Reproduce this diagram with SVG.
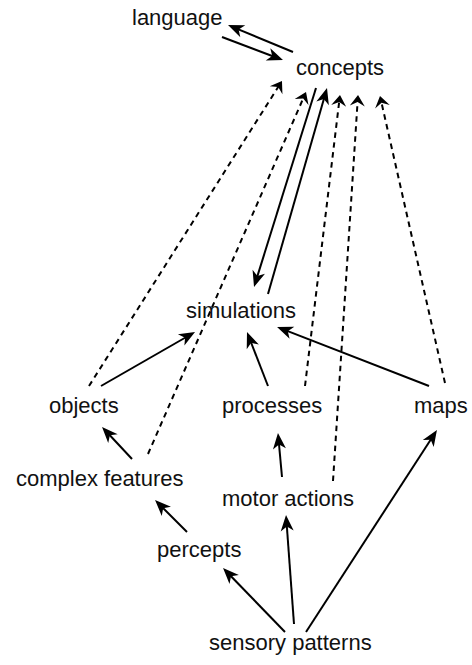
<svg xmlns="http://www.w3.org/2000/svg" width="472" height="665" viewBox="0 0 472 665">
  <style>
    .label { font-family: "Liberation Sans", Arial, Helvetica, sans-serif; font-size: 22px; fill: #111; }
    .edge { fill: none; stroke: #000; stroke-width: 2; }
    .solid { marker-end: url(#head); }
    .dashed { stroke-dasharray: 5.5 4.5; marker-end: url(#headSmall); }
  </style>
  <defs>
    <!-- notched arrowheads; the line ends inside the head, tip lies ahead of it -->
    <marker id="head" markerUnits="userSpaceOnUse" orient="auto" overflow="visible" refX="0" refY="0" markerWidth="1" markerHeight="1">
      <path d="M8,0 L-8,-6.5 L-3.5,0 L-8,6.5 Z" fill="#000"/>
    </marker>
    <marker id="headSmall" markerUnits="userSpaceOnUse" orient="auto" overflow="visible" refX="0" refY="0" markerWidth="1" markerHeight="1">
      <path d="M5,0 L-6,-7.5 L-2,0 L-6,7.5 Z" fill="#000"/>
    </marker>
  </defs>
  <rect width="472" height="665" fill="#fff"/>

  <g id="connectors">
    <line class="edge solid" x1="222" y1="37" x2="275.5" y2="57.2"/>
    <line class="edge solid" x1="293" y1="52" x2="235.4" y2="28.1"/>
    <line class="edge solid" x1="316" y1="88" x2="256.4" y2="279.4"/>
    <line class="edge solid" x1="268" y1="294" x2="324.8" y2="95.7"/>
    <line class="edge solid" x1="101" y1="386" x2="188.1" y2="336"/>
    <line class="edge solid" x1="268" y1="386" x2="249.9" y2="339.5"/>
    <line class="edge solid" x1="429" y1="386" x2="284.5" y2="329.9"/>
    <line class="edge solid" x1="132" y1="459" x2="107.5" y2="432.8"/>
    <line class="edge solid" x1="187" y1="532" x2="160.7" y2="505.7"/>
    <line class="edge solid" x1="285" y1="632" x2="228.6" y2="573.7"/>
    <line class="edge solid" x1="294" y1="624" x2="286.6" y2="523"/>
    <line class="edge solid" x1="306" y1="632" x2="432.6" y2="436.7"/>
    <line class="edge solid" x1="282" y1="477" x2="278.7" y2="441"/>

    <line class="edge dashed" x1="89" y1="386" x2="279.3" y2="85.2"/>
    <line class="edge dashed" x1="148" y1="454" x2="304" y2="96.6"/>
    <line class="edge dashed" x1="305" y1="386" x2="339.4" y2="100"/>
    <line class="edge dashed" x1="333" y1="481" x2="357.7" y2="100"/>
    <line class="edge dashed" x1="445" y1="383" x2="381.1" y2="100.9"/>
  </g>

  <g id="language"><text class="label" x="132" y="25">language</text></g>
  <g id="concepts"><text class="label" x="296" y="75">concepts</text></g>
  <g id="simulations"><text class="label" x="186" y="318">simulations</text></g>
  <g id="objects"><text class="label" x="49" y="413">objects</text></g>
  <g id="processes"><text class="label" x="222" y="413">processes</text></g>
  <g id="maps"><text class="label" x="414" y="413">maps</text></g>
  <g id="complex-features"><text class="label" x="16" y="486">complex features</text></g>
  <g id="motor-actions"><text class="label" x="222" y="506">motor actions</text></g>
  <g id="percepts"><text class="label" x="157" y="557">percepts</text></g>
  <g id="sensory-patterns"><text class="label" x="209" y="650">sensory patterns</text></g>
</svg>
